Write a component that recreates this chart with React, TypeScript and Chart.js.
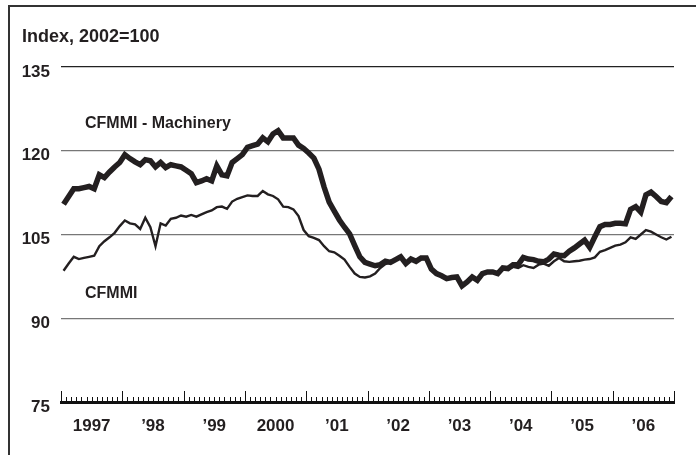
import React, { useEffect, useRef } from "react";
import { Chart, registerables } from "chart.js";

Chart.register(...registerables);

// Monthly data, Jan 1997 – Dec 2006 (index, 2002=100)
const yearLabels = ["1997", "’98", "’99", "2000", "’01", "’02", "’03", "’04", "’05", "’06"];
const yTickValues = [75, 90, 105, 120, 135];
const titleText = "Index, 2002=100";
const machineryName = "CFMMI - Machinery";
const cfmmiName = "CFMMI";

const machinery = [
  110.4, 111.8, 113.2, 113.2, 113.4, 113.6, 113.2, 115.7, 115.2, 116.2, 117.1, 117.9,
  119.3, 118.6, 118.0, 117.5, 118.4, 118.2, 117.1, 117.9, 117.0, 117.5, 117.3, 117.1,
  116.5, 115.9, 114.3, 114.6, 115.0, 114.6, 117.3, 115.7, 115.5, 117.9, 118.6, 119.3,
  120.6, 120.9, 121.2, 122.3, 121.6, 123.0, 123.6, 122.3, 122.3, 122.3, 121.0, 120.4,
  119.6, 118.7, 116.7, 113.5, 110.8, 109.2, 107.6, 106.3, 105.1, 103.0, 101.0, 100.0,
  99.7, 99.4, 99.6, 100.2, 100.0, 100.5, 101.0, 99.8, 100.6, 100.2, 100.8, 100.8,
  98.8, 98.0, 97.6, 97.1, 97.3, 97.4, 95.8, 96.5, 97.4, 96.8, 98.0, 98.3,
  98.3, 98.0, 99.0, 98.9, 99.6, 99.6, 100.9, 100.6, 100.5, 100.2, 100.1, 100.6,
  101.5, 101.3, 101.2, 102.0, 102.6, 103.3, 104.0, 102.7, 104.6, 106.4, 106.8, 106.8,
  107.0, 107.0, 106.9, 109.5, 110.0, 109.0, 112.1, 112.6, 111.8, 110.9, 110.7, 111.8,
];

const cfmmi = [
  98.5, 99.8, 101.0, 100.6, 100.8, 101.0, 101.2, 102.9, 103.8, 104.5, 105.3, 106.5,
  107.5, 107.0, 106.8, 106.0, 108.0, 106.3, 102.9, 107.0, 106.6, 107.8, 108.0, 108.4,
  108.2, 108.5, 108.2, 108.6, 109.0, 109.3, 109.9, 110.0, 109.6, 110.9, 111.4, 111.7,
  112.0, 111.9, 111.9, 112.8, 112.2, 111.9, 111.3, 110.0, 109.9, 109.5, 108.3, 105.8,
  104.7, 104.4, 104.0, 102.9, 102.0, 101.8, 101.2, 100.5, 99.2, 98.0, 97.4, 97.3,
  97.5, 98.0, 99.0, 99.7, 100.0, 100.4, 101.0, 100.0, 100.5, 100.3, 100.6, 100.6,
  98.8, 98.2, 97.8, 97.2, 97.2, 97.3, 95.9, 96.8, 97.2, 97.0, 98.1, 98.3,
  98.2, 98.1, 99.0, 98.7, 99.2, 99.0, 99.5, 99.2, 99.0, 99.6, 99.8, 99.4,
  100.2, 100.8, 100.2, 100.1, 100.2, 100.3, 100.5, 100.6, 100.9, 101.9, 102.2, 102.6,
  103.0, 103.2, 103.6, 104.5, 104.2, 105.0, 105.8, 105.5, 105.0, 104.5, 104.1, 104.6,
];

const FONT = '"Liberation Sans", Arial, sans-serif';
const INK = "#231f20";

export default function App() {
  const ref = useRef<HTMLCanvasElement>(null);

  useEffect(() => {
    if (!ref.current) return;
    const months = machinery.length;

    const overlay = {
      id: "overlay",
      afterDraw(chart: any) {
        const { ctx, chartArea, scales } = chart;
        const xs = scales.x;
        const ys = scales.y;
        ctx.save();
        // inward monthly tick marks
        ctx.strokeStyle = "#111";
        ctx.lineWidth = 1;
        for (let m = 0; m <= months; m++) {
          const x = Math.round(xs.getPixelForValue(m)) + 0.5;
          const len = m % 12 === 0 ? 11 : 5;
          ctx.beginPath();
          ctx.moveTo(x, chartArea.bottom);
          ctx.lineTo(x, chartArea.bottom - len);
          ctx.stroke();
        }
        // texts
        ctx.fillStyle = INK;
        ctx.textBaseline = "alphabetic";
        ctx.textAlign = "left";
        ctx.font = `bold 18px ${FONT}`;
        ctx.fillText(titleText, 22, 42);
        ctx.font = `bold 16px ${FONT}`;
        ctx.fillText(machineryName, xs.getPixelForValue(4.7), ys.getPixelForValue(124.1));
        ctx.fillText(cfmmiName, xs.getPixelForValue(4.7), ys.getPixelForValue(93.6));
        ctx.restore();
      },
    };

    const chart = new Chart(ref.current, {
      type: "line",
      data: {
        datasets: [
          {
            label: machineryName,
            data: machinery.map((v, i) => ({ x: i + 0.5, y: v })),
            borderColor: INK,
            borderWidth: 5.5,
            pointRadius: 0,
            tension: 0,
          },
          {
            label: cfmmiName,
            data: cfmmi.map((v, i) => ({ x: i + 0.5, y: v })),
            borderColor: INK,
            borderWidth: 2.4,
            pointRadius: 0,
            tension: 0,
          },
        ],
      },
      options: {
        animation: false,
        responsive: false,
        layout: { padding: { left: 0, right: 22, top: 67, bottom: 0 } },
        plugins: {
          legend: { display: false },
          tooltip: { enabled: false },
          title: { display: false },
        },
        scales: {
          x: {
            type: "linear",
            min: 0,
            max: months,
            afterBuildTicks: (scale: any) => {
              scale.ticks = yearLabels.map((_, i) => ({ value: i * 12 + 6 }));
            },
            afterFit: (scale: any) => {
              scale.height = 53;
            },
            ticks: {
              autoSkip: false,
              maxRotation: 0,
              padding: 14,
              color: INK,
              font: { family: FONT, size: 17, weight: "bold" },
              callback: (_v: any, i: number) => yearLabels[i],
            },
            grid: { display: false, drawTicks: false },
            border: { display: true, color: "#111", width: 3 },
          },
          y: {
            min: 75,
            max: 135,
            afterBuildTicks: (scale: any) => {
              scale.ticks = yTickValues.map((v) => ({ value: v }));
            },
            afterFit: (scale: any) => {
              scale.width = 61;
            },
            ticks: {
              padding: 11,
              labelOffset: 5,
              color: INK,
              font: { family: FONT, size: 17, weight: "bold" },
            },
            grid: {
              drawTicks: false,
              lineWidth: 1.3,
              color: (c: any) =>
                c.tick && c.tick.value === 75 ? "rgba(0,0,0,0)" : c.tick && c.tick.value === 135 ? "#222" : "#777",
            },
            border: { display: false },
          },
        },
      },
      plugins: [overlay],
    });

    return () => chart.destroy();
  }, []);

  return (
    <div style={{ position: "fixed", left: 0, top: 0, width: 696, height: 455, background: "#fff", overflow: "hidden" }}>
      <canvas ref={ref} width={696} height={455} style={{ position: "absolute", left: 0, top: 0 }} />
      <div
        style={{
          position: "absolute",
          left: 8,
          top: 5,
          width: 700,
          height: 460,
          borderTop: "2px solid #333",
          borderLeft: "2px solid #333",
          pointerEvents: "none",
        }}
      />
    </div>
  );
}
